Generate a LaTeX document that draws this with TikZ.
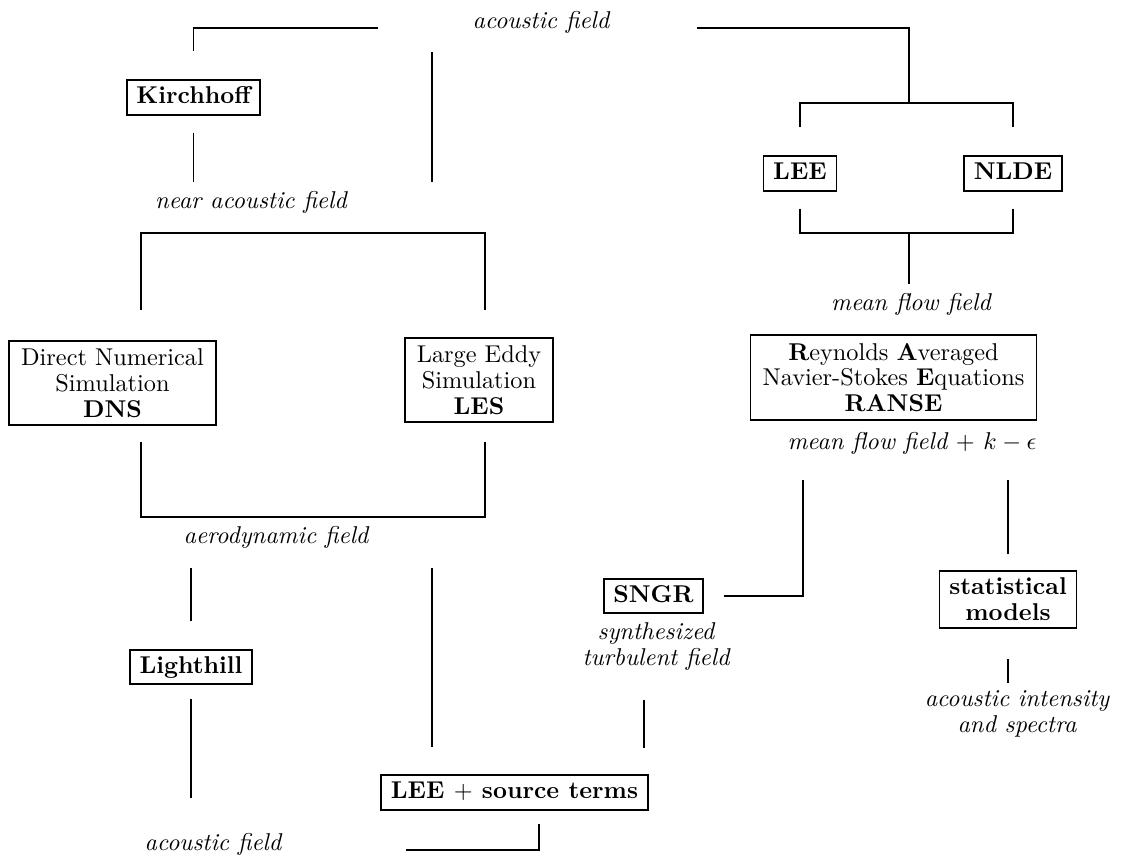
\documentclass[tikz,border=0pt]{standalone}
\usepackage{amsmath,amssymb}
\usetikzlibrary{positioning}
\newdimen\pxu \pxu=0.4115pt

\begin{document}
\begin{tikzpicture}[
    x=0.4115pt, y=-0.4115pt,
    font=\fontsize{10pt}{10.6pt}\selectfont,
    method/.style={rectangle, draw=black, line width=0.75pt, font=\fontsize{10pt}{10.6pt}\selectfont\bfseries, inner xsep=4pt, inner ysep=2.6pt, text height=6.94pt, text depth=1.94pt},
    model/.style={rectangle, draw=black, line width=0.75pt, align=center, inner xsep=5pt, inner ysep=3.2pt},
    field/.style={font=\fontsize{10pt}{10.6pt}\selectfont\itshape, inner sep=0pt},
    note/.style={field, align=center},
    link/.style={line width=0.75pt}
]
    \useasboundingbox (0,0) rectangle (1122,855);

    % Fields and methods, top part
    \node[field, anchor=base] (afTop) at (541,28) {acoustic field};
    \node[method] (kirch) at (193.5,97.5) {Kirchhoff};
    \node[field, anchor=base] (nearAF) at (251,208) {near acoustic field};
    \node[method] (lee) at (800,173.5) {LEE};
    \node[method] (nlde) at (1013,173.5) {NLDE};
    \node[field, anchor=base] (meanA) at (911,310) {mean flow field};

    % Flow solvers
    \node[model] (dns) at (112.5,383) {Direct Numerical\\Simulation\\\textbf{DNS}};
    \node[model] (les) at (479,380) {Large Eddy\\Simulation\\\textbf{LES}};
    \node[model] (ranse) at (893.5,377.5) {\textbf{R}eynolds \textbf{A}veraged\\Navier-Stokes \textbf{E}quations\\\textbf{RANSE}};
    \node[field, anchor=base] (meanB) at (912,449) {mean flow field $+$ $k-\epsilon$};
    \node[field, anchor=base] (aero) at (276,543) {aerodynamic field};

    % Source models, bottom part
    \node[method] (sngr) at (653.5,596) {SNGR};
    \node[note] (synth) at (656,646.4) {synthesized\\turbulent field};
    \node[model, font=\fontsize{10pt}{10.6pt}\selectfont\bfseries, inner xsep=4pt, inner ysep=3pt] (stat) at (1008,599.5) {statistical\\models};
    \node[note] (intens) at (1017,713.7) {acoustic intensity\\and spectra};
    \node[method] (light) at (191,667) {Lighthill};
    \node[method] (leesrc) at (514.5,792.5) {LEE $+$ source terms};
    \node[field, anchor=base] (afBot) at (213,850) {acoustic field};

    % Junctions
    \coordinate (fork) at (909,103);
    \coordinate (join) at (909,233);
    \coordinate (lesCol) at (432,28);
    \coordinate (nearL) at (141,233);
    \coordinate (nearR) at (485,233);
    \coordinate (aeroL) at (141,517);
    \coordinate (aeroR) at (485,517);
    \coordinate (sngrCol) at (803,594);
    \coordinate (srcTop) at (644,748);
    \coordinate (srcOut) at (539,849);

    % Draw connections
    \draw[link, shorten <=94\pxu, shorten >=28\pxu] (afTop.base west) -| (kirch.north);
    \draw[link, shorten <=87\pxu] (afTop.base east) -| (fork);
    \draw[link, shorten >=28\pxu] (fork) -| (lee.north);
    \draw[link, shorten >=28\pxu] (fork) -| (nlde.north);
    \draw[link, shorten <=17\pxu] (lee.south) |- (join);
    \draw[link, shorten <=17\pxu] (nlde.south) |- (join);
    \draw[link, shorten >=8\pxu] (join) -- (join |- meanA.north);
    \draw[link, shorten <=17\pxu, shorten >=8\pxu] (kirch.south) -- (kirch.south |- nearAF.north);
    \draw[link, shorten <=24\pxu, shorten >=8\pxu] (lesCol) -- (lesCol |- nearAF.north);
    \draw[link, shorten <=30\pxu, shorten >=27\pxu] (dns.north -| nearL) -- (nearL) -- (nearR) -- (les.north -| nearR);
    \draw[link, shorten <=16\pxu, shorten >=19\pxu] (dns.south -| aeroL) -- (aeroL) -- (aeroR) -- (les.south -| aeroR);
    \draw[link, shorten <=20\pxu, shorten >=28\pxu] (aero.south -| light.north) -- (light.north);
    \draw[link, shorten <=14\pxu, shorten >=34\pxu] (light.south) -- (light.south |- afBot.north);
    \draw[link, shorten <=20\pxu, shorten >=27\pxu] (aero.south -| lesCol) -- (leesrc.north -| lesCol);
    \draw[link, shorten <=26\pxu, shorten >=20\pxu] (meanB.south -| sngrCol) |- (sngr.east);
    \draw[link, shorten <=26\pxu, shorten >=16\pxu] (meanB.south -| stat.north) -- (stat.north);
    \draw[link, shorten <=30\pxu, shorten >=7\pxu] (stat.south) -- (stat.south |- intens.north);
    \draw[link, shorten <=29\pxu] (synth.south -| srcTop) -- (srcTop);
    \draw[link, shorten <=13\pxu, shorten >=124\pxu] (leesrc.south -| srcOut) |- (afBot.base east);

\end{tikzpicture}
\end{document}
